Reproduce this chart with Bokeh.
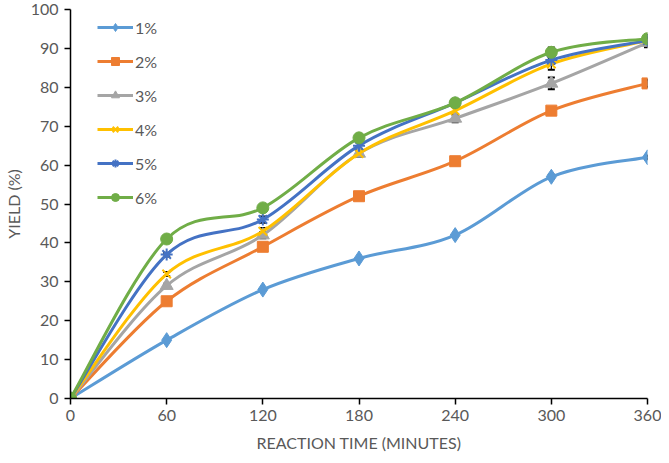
from bokeh.plotting import figure
from bokeh.models import Legend, LegendItem, ColumnDataSource, Whisker, TeeHead, FixedTicker
from bokeh.embed import file_html
from bokeh.resources import INLINE

times = [0, 60, 120, 180, 240, 300, 360]
labels = ["1%", "2%", "3%", "4%", "5%", "6%"]
y1 = [0, 15, 28, 36, 42, 57, 62]
y2 = [0, 25, 39, 52, 61, 74, 81]
y3 = [0, 29, 42, 63, 72, 81, 91.5]
y4 = [0, 32, 43, 63, 74, 86, 92]
y5 = [0, 37, 46, 65, 76, 87, 92]
y6 = [0, 41, 49, 67, 76, 89, 92.5]
e1 = [0, 0, 0, 0, 0, 0.5, 0.5]
e2 = [0, 0, 0, 0, 0, 0.8, 1.0]
e3 = [0, 0.5, 0.8, 0.8, 1.0, 1.5, 1.2]
e4 = [0, 0.5, 0.8, 0.8, 1.0, 1.5, 1.0]
e5 = [0, 0.5, 0.8, 0.8, 1.0, 1.0, 1.0]
e6 = [0, 0.5, 0.8, 0.8, 1.0, 1.2, 1.0]
series = [y1, y2, y3, y4, y5, y6]
errors = [e1, e2, e3, e4, e5, e6]
colors = ["#5B9BD5", "#ED7D31", "#A5A5A5", "#FFC000", "#4472C4", "#70AD47"]
markers = ["diamond", "square", "triangle", "x", "asterisk", "circle"]
msizes = [15, 11, 13, 12, 12, 12]
x_ticks = [0, 60, 120, 180, 240, 300, 360]
y_ticks = [0, 10, 20, 30, 40, 50, 60, 70, 80, 90, 100]

FONT = "Lato"
TXT = "#595959"

p = figure(width=661, height=455, x_range=(0, 360), y_range=(0, 100),
           output_backend="svg", toolbar_location=None,
           min_border_left=68, min_border_right=14, min_border_top=9, min_border_bottom=57)
p.outline_line_color = None
p.grid.visible = False
p.background_fill_color = "white"


def bezier_segments(xs, ys):
    n = len(xs)
    out = dict(x0=[], y0=[], x1=[], y1=[], cx0=[], cy0=[], cx1=[], cy1=[])
    for i in range(n - 1):
        i0 = max(i - 1, 0)
        i3 = min(i + 2, n - 1)
        out["x0"].append(xs[i]); out["y0"].append(ys[i])
        out["x1"].append(xs[i + 1]); out["y1"].append(ys[i + 1])
        out["cx0"].append(xs[i] + (xs[i + 1] - xs[i0]) / 6.0)
        out["cy0"].append(ys[i] + (ys[i + 1] - ys[i0]) / 6.0)
        out["cx1"].append(xs[i + 1] - (xs[i3] - xs[i]) / 6.0)
        out["cy1"].append(ys[i + 1] - (ys[i3] - ys[i]) / 6.0)
    return out


items = []
for ys, es, c, m, ms, lab in zip(series, errors, colors, markers, msizes, labels):
    src = ColumnDataSource(dict(x=times, y=ys,
                                lo=[a - b for a, b in zip(ys, es)],
                                hi=[a + b for a, b in zip(ys, es)]))
    w = Whisker(source=src, base="x", upper="hi", lower="lo", line_color="black",
                line_width=1.2,
                upper_head=TeeHead(size=7, line_color="black", line_width=2),
                lower_head=TeeHead(size=7, line_color="black", line_width=2))
    p.add_layout(w)
    seg = bezier_segments(times, ys)
    b = p.bezier(source=ColumnDataSource(seg), x0="x0", y0="y0", x1="x1", y1="y1",
                 cx0="cx0", cy0="cy0", cx1="cx1", cy1="cy1",
                 line_color=c, line_width=3)
    lw = 2 if m in ("x", "asterisk") else 1
    s = p.scatter("x", "y", source=src, marker=m, size=ms, fill_color=c,
                  line_color=c, line_width=lw)
    items.append(LegendItem(label=lab, renderers=[b, s]))

legend = Legend(items=items, location=(27, 191), orientation="vertical",
                glyph_width=36, glyph_height=20, spacing=14, padding=0, margin=0,
                label_standoff=2, label_text_font=FONT, label_text_font_size="16px",
                label_text_color=TXT, background_fill_alpha=0, border_line_color=None)
p.add_layout(legend)

p.xaxis.ticker = FixedTicker(ticks=x_ticks)
p.yaxis.ticker = FixedTicker(ticks=y_ticks)
for ax in (p.xaxis, p.yaxis):
    ax.axis_line_color = "black"
    ax.axis_line_width = 1.5
    ax.major_tick_line_color = "black"
    ax.major_tick_line_width = 1.5
    ax.major_tick_out = 6
    ax.major_tick_in = 0
    ax.minor_tick_line_color = None
    ax.major_label_text_font = FONT
    ax.major_label_text_font_size = "16px"
    ax.major_label_text_color = TXT
    ax.axis_label_text_font = FONT
    ax.axis_label_text_font_size = "16px"
    ax.axis_label_text_font_style = "normal"
    ax.axis_label_text_color = TXT
p.xaxis.axis_label = "REACTION TIME (MINUTES)"
p.yaxis.axis_label = "YIELD (%)"
p.xaxis.major_label_standoff = 5
p.yaxis.major_label_standoff = 6
p.xaxis.axis_label_standoff = 9
p.yaxis.axis_label_standoff = 5

open("out.html", "w").write(file_html(p, INLINE))
